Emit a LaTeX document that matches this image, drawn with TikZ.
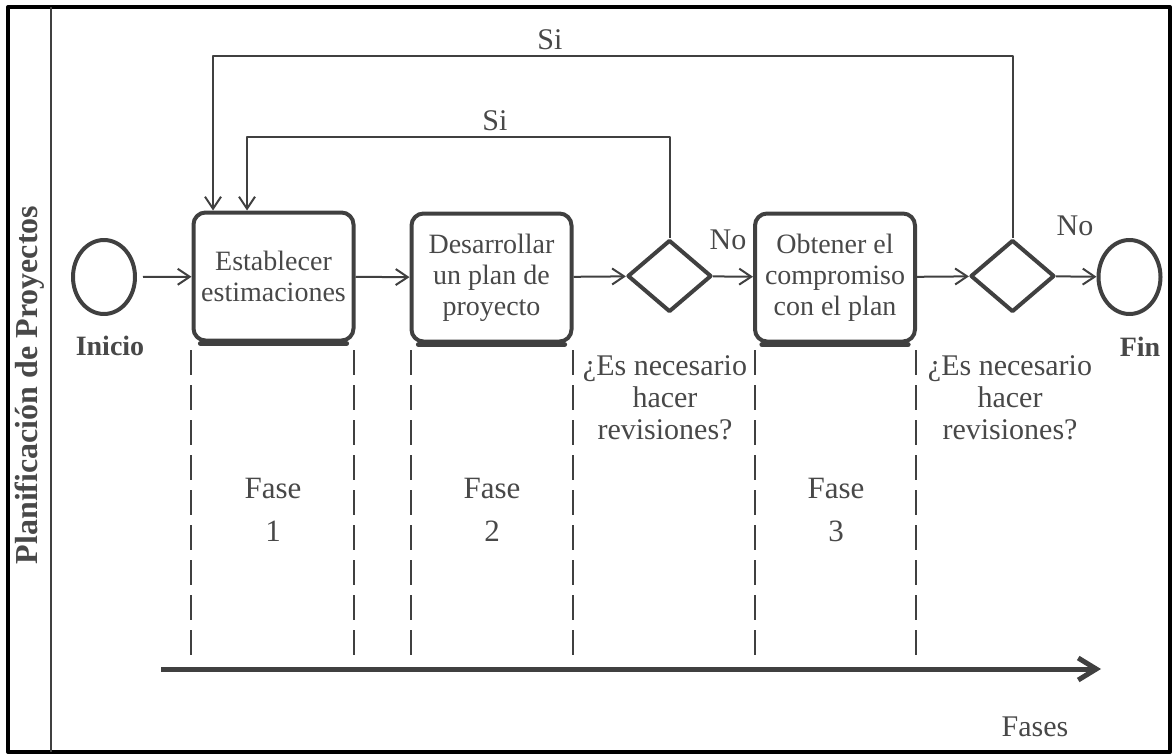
\documentclass[tikz,border=0pt]{standalone}
\usepackage{fontspec}
\setmainfont{Liberation Serif}
\usetikzlibrary{arrows.meta, positioning, shapes.geometric}
\definecolor{linegray}{RGB}{64,64,64}
\definecolor{textgray}{RGB}{72,72,72}

\begin{document}
\begin{tikzpicture}[x=0.5pt, y=-0.5pt, line join=round,
    task/.style={draw=linegray, line width=2pt, rounded corners=6pt, minimum width=80pt, minimum height=64pt, align=center, text=textgray, inner sep=0pt, font=\fontsize{14}{15.5}\selectfont},
    gate/.style={draw=linegray, diamond, line width=2pt, minimum width=42pt, minimum height=36pt, inner sep=0pt},
    event/.style={draw=linegray, ellipse, line width=2pt, minimum width=31pt, minimum height=37pt, inner sep=0pt},
    flow/.style={draw=linegray, line width=1pt, -{Straight Barb[length=6pt,width=8pt]}},
    phase/.style={draw=linegray, line width=1pt, dash pattern=on 12.5pt off 5pt},
    lbl/.style={text=textgray, align=center, inner sep=0pt, font=\fontsize{15}{16}\selectfont},
    bold/.style={text=textgray, inner sep=0pt, font=\bfseries\fontsize{14}{16}\selectfont}]
  \useasboundingbox (0,0) rectangle (1173,755);

  % Pool and lane
  \draw[line width=2pt] (8,7) rectangle (1170,752);
  \draw[linegray, line width=1pt] (51,7) -- (51,752);
  \node[bold, rotate=90, font=\bfseries\fontsize{16}{18}\selectfont] (lane) at (30,385) {Planificación de Proyectos};

  % Events, tasks and gateways
  \node[event] (inicio) at (104,277) {};
  \node[task] (est) at (273.5,276.5) {Establecer\\estimaciones};
  \node[task] (plan) at (491.5,277.5) {Desarrollar\\un plan de\\proyecto};
  \node[gate] (rev1) at (669.5,276) {};
  \node[task] (comp) at (835,277.5) {Obtener el\\compromiso\\con el plan};
  \node[gate] (rev2) at (1012.5,276) {};
  \node[event] (fin) at (1129.5,277) {};

  % Heavier bottom edge of the tasks
  \foreach \b in {est,plan,comp}
    \draw[linegray, line width=2.6pt, line cap=round] ([xshift=4.5pt,yshift=-0.6pt]\b.south west) -- ([xshift=-4.5pt,yshift=-0.6pt]\b.south east);

  % Labels
  \node[bold] (inicioL) at (110,346) {Inicio};
  \node[bold] (finL) at (1140,347) {Fin};
  \node[lbl] (q1) at (665,398) {¿Es necesario\\hacer\\revisiones?};
  \node[lbl] (q2) at (1010,398) {¿Es necesario\\hacer\\revisiones?};
  \node[lbl] (no1) at (728,240) {No};
  \node[lbl] (no2) at (1075,226) {No};
  \node[lbl] (si2) at (550,40) {Si};
  \node[lbl] (si1) at (495,121) {Si};

  % Flows
  \draw[flow, shorten <=3pt] (inicio) -- (est);
  \draw[flow] (est) -- (plan);
  \draw[flow] (plan) -- (rev1);
  \draw[flow] (rev1) -- (comp);
  \draw[flow] (comp) -- (rev2);
  \draw[flow] (rev2) -- (fin);

  % Loops back
  \coordinate (loop1) at (0,137);
  \coordinate (loop2) at (0,56);
  \draw[flow] (rev1.north) -- (rev1.north |- loop1) -| ([xshift=-13.25pt]est.north);
  \draw[flow] (rev2.north) -- (rev2.north |- loop2) -| ([xshift=-30.25pt]est.north);

  % Phases
  \foreach \x in {191,354,411,573,755,916}
    \draw[phase] (\x,350) -- (\x,655);
  \node[lbl, font=\fontsize{15.5}{21.5}\selectfont] (f1) at (273,510) {Fase\\1};
  \node[lbl, font=\fontsize{15.5}{21.5}\selectfont] (f2) at (492,510) {Fase\\2};
  \node[lbl, font=\fontsize{15.5}{21.5}\selectfont] (f3) at (836,510) {Fase\\3};

  % Axis
  \coordinate (axs) at (161,669);
  \coordinate (axe) at (1101,669);
  \draw[linegray, line width=2.5pt, -{Straight Barb[length=9pt,width=11pt]}] (axs) -- (axe);
  \node[lbl] (fases) at (1035,727) {Fases};
\end{tikzpicture}
\end{document}
